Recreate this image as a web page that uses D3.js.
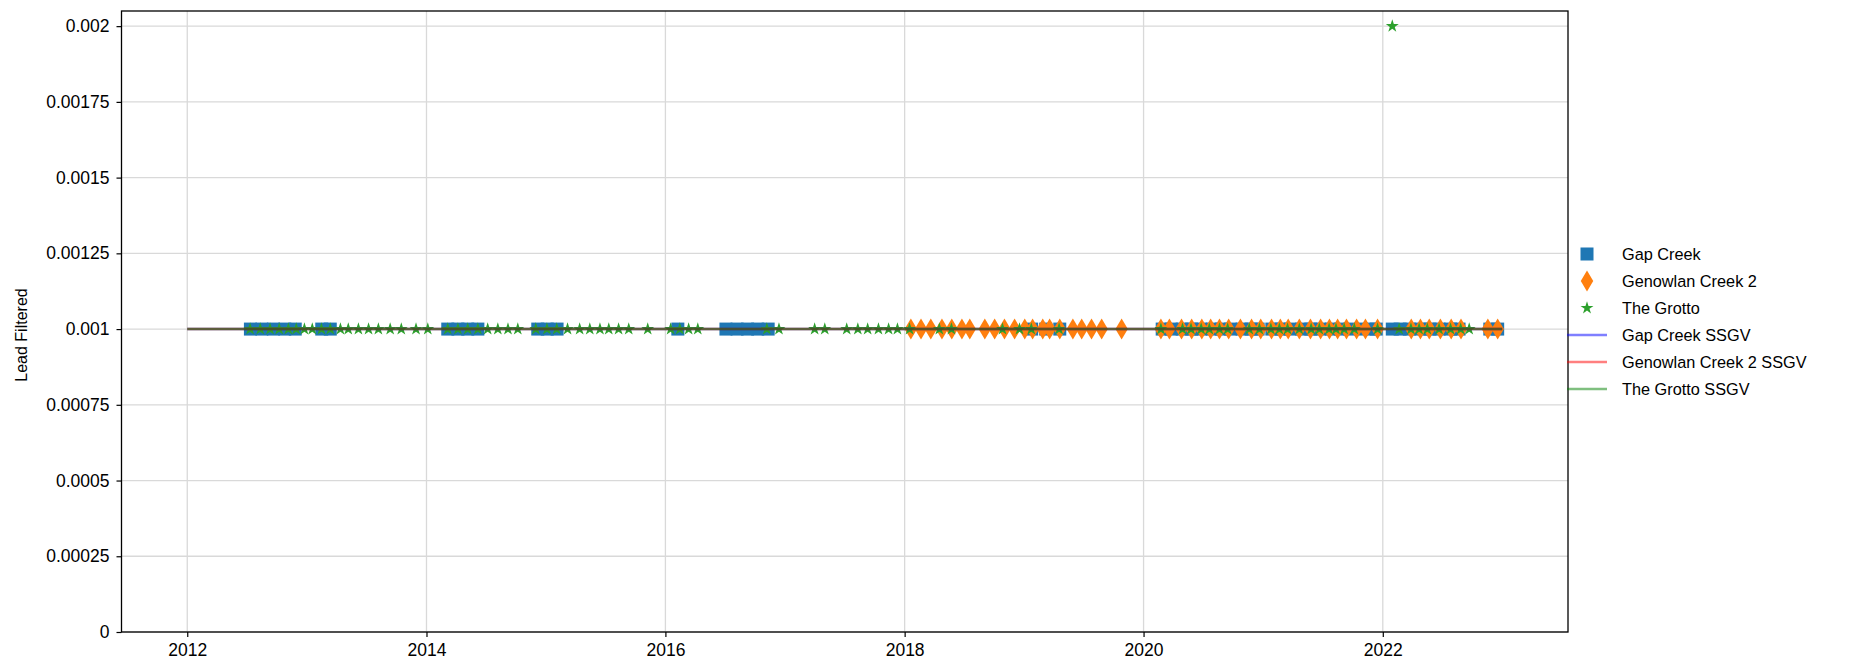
<!DOCTYPE html>
<html>
<head>
<meta charset="utf-8">
<script src="https://cdn.jsdelivr.net/npm/d3@7"></script>
<style>
  html, body { margin: 0; padding: 0; background: #fff; }
  svg { display: block; font-family: "Liberation Sans", Arial, sans-serif; }
</style>
</head>
<body>
<svg id="chart" width="1863" height="668"></svg>
<script>
// ---------------- DATA ----------------
const gapCreekDates = [
  "2012-07-12","2012-08-16","2012-09-20","2012-10-25","2012-11-26",
  "2013-02-15","2013-03-13",
  "2014-03-07","2014-04-07","2014-05-07","2014-06-07",
  "2014-12-07","2015-01-05","2015-02-04",
  "2016-02-08",
  "2016-07-04","2016-08-07","2016-09-08","2016-10-09","2016-11-10",
  "2019-01-24","2019-03-08","2019-04-20",
  "2020-02-27","2020-03-26","2020-04-28","2020-05-27","2020-06-24","2020-07-29","2020-08-26","2020-09-23",
  "2020-10-28","2020-11-25","2020-12-16","2021-01-27","2021-02-24","2021-03-24","2021-04-28","2021-05-26",
  "2021-06-23","2021-07-28","2021-08-25","2021-09-22","2021-10-27","2021-11-24","2021-12-12",
  "2022-01-30","2022-02-23","2022-03-23","2022-04-27","2022-05-25","2022-06-22","2022-07-27","2022-08-22",
  "2022-11-24","2022-12-18"
];
const gapCreekValues = gapCreekDates.map(() => 0.001);

const genowlanDates = [
  "2018-01-20","2018-02-20","2018-03-22","2018-04-25","2018-05-25","2018-06-25","2018-07-19",
  "2018-09-03","2018-10-03","2018-11-02","2018-12-03","2019-01-03","2019-01-27","2019-02-27",
  "2019-03-20","2019-04-20","2019-05-30","2019-06-26","2019-07-26","2019-08-26","2019-10-26",
  "2020-02-23","2020-03-20","2020-04-26","2020-05-27","2020-06-27","2020-07-24","2020-08-20",
  "2020-09-17","2020-10-23","2020-11-26","2020-12-24","2021-01-26","2021-02-22","2021-03-18",
  "2021-04-21","2021-05-25","2021-06-25","2021-07-22","2021-08-16","2021-09-12","2021-10-13",
  "2021-11-09","2021-12-16",
  "2022-03-29","2022-04-26","2022-05-23","2022-06-26","2022-07-29","2022-08-28",
  "2022-11-18","2022-12-18"
];
const genowlanValues = genowlanDates.map(() => 0.001);

const grottoDates = [
  "2012-07-11","2012-08-11","2012-09-10","2012-10-08","2012-11-05","2012-11-29","2012-12-24",
  "2013-01-17","2013-02-14","2013-03-13","2013-04-13","2013-05-07","2013-06-07","2013-07-08",
  "2013-08-07","2013-09-12","2013-10-16","2013-11-30","2014-01-05",
  "2014-03-07","2014-04-07","2014-05-07","2014-06-07","2014-07-07","2014-08-07","2014-09-07","2014-10-07",
  "2014-12-01","2015-01-04","2015-02-03","2015-03-08","2015-04-14","2015-05-15","2015-06-15",
  "2015-07-12","2015-08-11","2015-09-11","2015-11-08",
  "2016-01-17","2016-02-14","2016-03-12","2016-04-09",
  "2016-11-06","2016-12-13",
  "2017-04-01","2017-05-02","2017-07-08","2017-08-11","2017-09-10","2017-10-13","2017-11-13","2017-12-10",
  "2018-01-16","2018-04-17","2018-05-24","2018-10-27","2018-12-18","2019-01-23","2019-04-18",
  "2020-02-23","2020-04-29","2020-05-25","2020-06-25","2020-07-20","2020-08-20","2020-09-14",
  "2020-11-19","2020-12-20","2021-01-24","2021-02-19","2021-03-16","2021-04-21","2021-05-27",
  "2021-06-21","2021-07-21","2021-08-11","2021-09-05","2021-10-06","2021-12-16",
  "2022-01-30","2022-02-20","2022-03-28","2022-04-22","2022-05-17","2022-06-22","2022-07-27","2022-08-27","2022-09-22"
];
const grottoValues = grottoDates.map(d => d === "2022-01-30" ? 0.002 : 0.001);

const ssgvDates = ["2012-01-01", "2023-01-01"];
const gapCreekSSGV = [0.001, 0.001];
const genowlanSSGV = [0.001, 0.001];
const grottoSSGV = [0.001, 0.001];

const yTickValues = [0, 0.00025, 0.0005, 0.00075, 0.001, 0.00125, 0.0015, 0.00175, 0.002];
const yTickLabels = ["0", "0.00025", "0.0005", "0.00075", "0.001", "0.00125", "0.0015", "0.00175", "0.002"];
const xTickYears = [2012, 2014, 2016, 2018, 2020, 2022];
const xTickLabels = ["2012", "2014", "2016", "2018", "2020", "2022"];

const legendLabels = ["Gap Creek", "Genowlan Creek 2", "The Grotto", "Gap Creek SSGV", "Genowlan Creek 2 SSGV", "The Grotto SSGV"];
const yLabel = "Lead Filtered";

// ---------------- LAYOUT ----------------
const svg = d3.select("#chart");
const L = 121.5, R = 1568, T = 11, B = 632;
const parse = d3.utcParse("%Y-%m-%d");
const d0 = parse(ssgvDates[0]), d1 = parse(ssgvDates[1]);
const pad = (d1 - d0) * 0.05;
const x = d3.scaleUtc().domain([new Date(+d0 - pad), new Date(+d1 + pad)]).range([L, R]);
const y = d3.scaleLinear().domain([0, 0.00205]).range([B, T]);

const C_BLUE = "#1f77b4", C_ORANGE = "#ff7f0e", C_GREEN = "#2ca02c";
const TICK_FONT = 17.5, LEG_FONT = 16.3;

// grid
const g = svg.append("g");
g.selectAll(".gx").data(xTickYears).join("line")
  .attr("x1", d => x(Date.UTC(d, 0, 1))).attr("x2", d => x(Date.UTC(d, 0, 1)))
  .attr("y1", T).attr("y2", B).attr("stroke", "#d9d9d9").attr("stroke-width", 1.3);
g.selectAll(".gy").data(yTickValues).join("line")
  .attr("x1", L).attr("x2", R).attr("y1", d => y(d)).attr("y2", d => y(d))
  .attr("stroke", "#d9d9d9").attr("stroke-width", 1.3);

// markers
function diamondPath(w, h) { return `M0,${-h/2}L${w/2},0L0,${h/2}L${-w/2},0Z`; }
function starPath(Ro) {
  const Ri = Ro * 0.381966; let p = "";
  for (let i = 0; i < 10; i++) {
    const r = i % 2 === 0 ? Ro : Ri;
    const a = -Math.PI / 2 + i * Math.PI / 5;
    p += (i === 0 ? "M" : "L") + (r * Math.cos(a)).toFixed(3) + "," + (r * Math.sin(a)).toFixed(3);
  }
  return p + "Z";
}
const SQ = 13;
const sqData = gapCreekDates.map((d, i) => ({ t: parse(d), v: gapCreekValues[i] }));
const dmData = genowlanDates.map((d, i) => ({ t: parse(d), v: genowlanValues[i] }));
const stData = grottoDates.map((d, i) => ({ t: parse(d), v: grottoValues[i] }));

svg.append("g").selectAll("rect").data(sqData).join("rect")
  .attr("x", d => x(d.t) - SQ / 2).attr("y", d => y(d.v) - SQ / 2)
  .attr("width", SQ).attr("height", SQ).attr("fill", C_BLUE);
svg.append("g").selectAll("path").data(dmData).join("path")
  .attr("d", diamondPath(12.5, 21)).attr("transform", d => `translate(${x(d.t)},${y(d.v)})`)
  .attr("fill", C_ORANGE);
svg.append("g").selectAll("path").data(stData).join("path")
  .attr("d", starPath(6.8)).attr("transform", d => `translate(${x(d.t)},${y(d.v)})`)
  .attr("fill", C_GREEN);

// SSGV lines
const line = d3.line().x(d => x(d.t)).y(d => y(d.v));
const ssgvSeries = [
  { vals: gapCreekSSGV, color: "blue" },
  { vals: genowlanSSGV, color: "red" },
  { vals: grottoSSGV, color: "green" }
];
ssgvSeries.forEach(s => {
  svg.append("path")
    .datum(ssgvDates.map((d, i) => ({ t: parse(d), v: s.vals[i] })))
    .attr("d", line).attr("fill", "none").attr("stroke", s.color)
    .attr("stroke-opacity", 0.5).attr("stroke-width", 2.5);
});

// axes
const xAxis = d3.axisBottom(x)
  .tickValues(xTickYears.map(yr => new Date(Date.UTC(yr, 0, 1))))
  .tickFormat((d, i) => xTickLabels[i]).tickSize(5).tickPadding(7);
const yAxis = d3.axisLeft(y).tickValues(yTickValues)
  .tickFormat((d, i) => yTickLabels[i]).tickSize(5).tickPadding(7);
const gx = svg.append("g").attr("transform", `translate(0,${B})`).call(xAxis);
const gy = svg.append("g").attr("transform", `translate(${L},0)`).call(yAxis);
[gx, gy].forEach(a => {
  a.select(".domain").remove();
  a.selectAll(".tick line").attr("stroke", "#000").attr("stroke-width", 1.2);
  a.selectAll(".tick text").attr("fill", "#000").attr("font-size", TICK_FONT)
    .attr("font-family", "'Liberation Sans', Arial, sans-serif");
});
// frame
svg.append("rect").attr("x", L).attr("y", T).attr("width", R - L).attr("height", B - T)
  .attr("fill", "none").attr("stroke", "#000").attr("stroke-width", 1.3);

// y label
svg.append("text").attr("transform", `translate(21,335) rotate(-90)`)
  .attr("text-anchor", "middle").attr("dominant-baseline", "central")
  .attr("font-size", 16).attr("fill", "#000").text(yLabel);

// legend
const lg = svg.append("g");
const LX = 1587, LT = 254, LS = 27, TX = 1622;
legendLabels.forEach((lab, i) => {
  const cy = LT + i * LS;
  if (i === 0) lg.append("rect").attr("x", LX - SQ / 2).attr("y", cy - SQ / 2).attr("width", SQ).attr("height", SQ).attr("fill", C_BLUE);
  if (i === 1) lg.append("path").attr("d", diamondPath(12.5, 21)).attr("transform", `translate(${LX},${cy})`).attr("fill", C_ORANGE);
  if (i === 2) lg.append("path").attr("d", starPath(6.8)).attr("transform", `translate(${LX},${cy})`).attr("fill", C_GREEN);
  if (i >= 3) lg.append("line").attr("x1", 1567).attr("x2", 1607).attr("y1", cy).attr("y2", cy)
    .attr("stroke", ssgvSeries[i - 3].color).attr("stroke-opacity", 0.5).attr("stroke-width", 2.5);
  lg.append("text").attr("x", TX).attr("y", cy).attr("dominant-baseline", "central")
    .attr("font-size", LEG_FONT).attr("fill", "#000").text(lab);
});
</script>
</body>
</html>
